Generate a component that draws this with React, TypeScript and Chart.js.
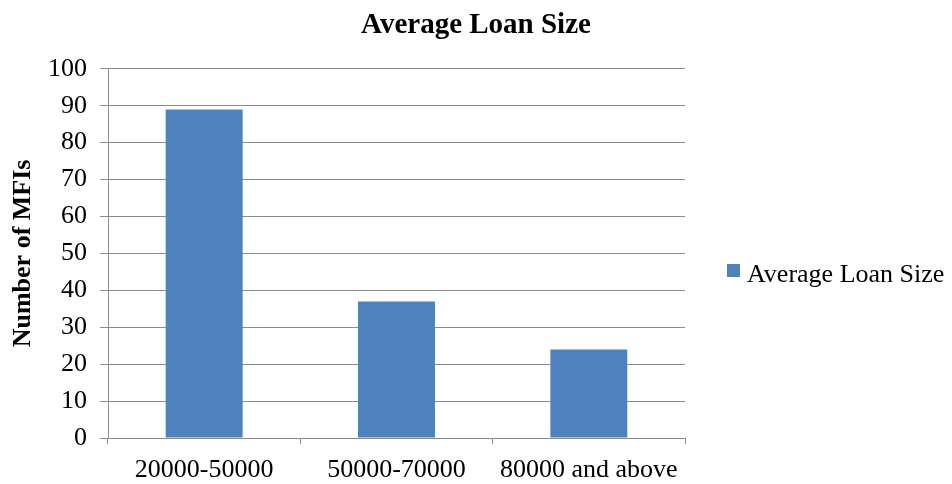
import React, { useEffect, useRef } from "react";
import { Chart, registerables } from "chart.js";

Chart.register(...registerables);

const categories = ["20000-50000", "50000-70000", "80000 and above"];
const seriesName = "Average Loan Size";
const mfiCounts = [89, 37, 24];
const yTicks = [0, 10, 20, 30, 40, 50, 60, 70, 80, 90, 100];

const SERIF = "'Liberation Serif', 'Times New Roman', serif";
const BAR_COLOR = "#4F81BD";
const GRID_COLOR = "#8C8C8C";

// Legend drawn in the space reserved to the right of the plot area
const sideLegend = {
  id: "sideLegend",
  afterDraw(chart: any) {
    const { ctx, chartArea } = chart;
    const x = chartArea.right + 42;
    ctx.save();
    ctx.fillStyle = BAR_COLOR;
    ctx.fillRect(x, 256, 13, 13);
    ctx.fillStyle = "#000";
    ctx.font = `26px ${SERIF}`;
    ctx.textBaseline = "alphabetic";
    ctx.textAlign = "left";
    ctx.fillText(seriesName, x + 20, 274);
    ctx.restore();
  },
};

export default function App() {
  const ref = useRef<HTMLCanvasElement>(null);
  useEffect(() => {
    if (!ref.current) return;
    const chart = new Chart(ref.current, {
      type: "bar",
      data: {
        labels: categories,
        datasets: [
          {
            label: seriesName,
            data: mfiCounts,
            backgroundColor: BAR_COLOR,
            barPercentage: 0.4,
            categoryPercentage: 1,
            yAxisID: "y",
          },
        ],
      },
      options: {
        animation: false,
        responsive: true,
        maintainAspectRatio: false,
        layout: { padding: 0 },
        plugins: {
          legend: { display: false },
          tooltip: { enabled: false },
          title: {
            display: true,
            text: "Average Loan Size",
            color: "#000",
            font: { family: SERIF, size: 29, weight: "bold" },
            padding: { top: 0, bottom: 26 },
          },
        },
        scales: {
          x: {
            offset: true,
            grid: {
              offset: true,
              drawOnChartArea: false,
              drawTicks: true,
              tickLength: 6,
              color: GRID_COLOR,
            },
            border: { color: GRID_COLOR, width: 1 },
            ticks: {
              color: "#000",
              font: { family: SERIF, size: 26 },
              padding: 11,
              maxRotation: 0,
              autoSkip: false,
            },
            afterFit(scale: any) {
              scale.height = 46;
            },
          },
          y: {
            min: 0,
            max: 100,
            afterBuildTicks(scale: any) {
              scale.ticks = yTicks.map((v) => ({ value: v }));
            },
            grid: {
              color: GRID_COLOR,
              tickLength: 8,
              drawTicks: true,
            },
            border: { color: GRID_COLOR, width: 1 },
            ticks: {
              color: "#000",
              font: { family: SERIF, size: 26 },
              padding: 13,
            },
            title: {
              display: true,
              text: "Number of MFIs",
              color: "#000",
              font: { family: SERIF, size: 26, weight: "bold" },
              padding: { top: 0, bottom: 0 },
            },
            afterFit(scale: any) {
              scale.width = 100;
            },
          },
          // empty right-hand box that leaves room for the legend
          legendSpace: {
            type: "linear",
            position: "right",
            display: true,
            grid: { display: false, drawTicks: false },
            border: { display: false },
            ticks: { display: false },
            afterFit(scale: any) {
              scale.width = 259;
            },
          },
        },
      },
      plugins: [sideLegend],
    });
    return () => chart.destroy();
  }, []);
  return (
    <div style={{ width: 936, height: 476, position: "relative" }}>
      <canvas ref={ref} />
    </div>
  );
}
